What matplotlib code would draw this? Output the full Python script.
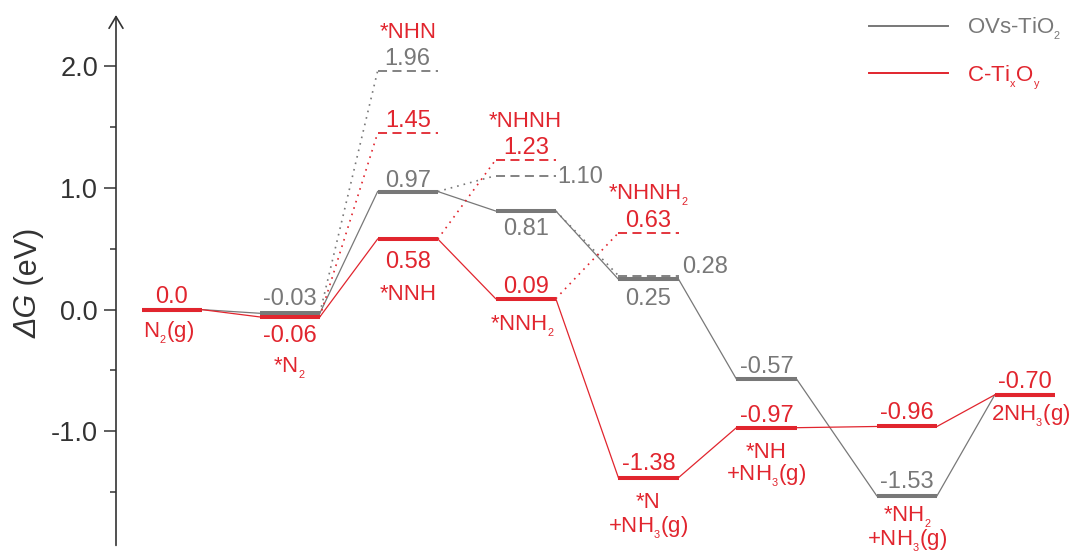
import matplotlib
matplotlib.use('Agg')
import matplotlib.pyplot as plt
from matplotlib.lines import Line2D

# ---------------- data ----------------
steps = ['N$_{_2}$(g)', '*N$_{_2}$', '*NNH', '*NNH$_{_2}$', '*N\n+NH$_{_3}$(g)',
         '*NH\n+NH$_{_3}$(g)', '*NH$_{_2}$\n+NH$_{_3}$(g)', '2NH$_{_3}$(g)']
ovs_G = [0.0, -0.03, 0.97, 0.81, 0.25, -0.57, -1.53, -0.70]
ctio_G = [0.0, -0.06, 0.58, 0.09, -1.38, -0.97, -0.96, -0.70]
alt_steps = [2, 3, 4]
alt_names = ['*NHN', '*NHNH', '*NHNH$_{_2}$']
ovs_alt = [1.96, 1.10, 0.28]
ctio_alt = [1.45, 1.23, 0.63]
yticks = [-1.0, 0.0, 1.0, 2.0]
yticklabels = ['-1.0', '0.0', '1.0', '2.0']
yminor = [-1.5, -0.5, 0.5, 1.5]
series_names = ['OVs-TiO$_{_2}$', 'C-Ti$_{_\\mathrm{x}}$O$_{_\\mathrm{y}}$']

# ---------------- layout / style ----------------
step_x = [0, 1, 2, 3, 4.04, 5.04, 6.23, 7.23]
hw = 0.255
GRAY = '#787878'
RED = '#E1252E'
AX = '#333333'

plt.rcParams['font.family'] = ['Liberation Sans', 'DejaVu Sans']
plt.rcParams['mathtext.fontset'] = 'custom'
plt.rcParams['mathtext.rm'] = 'Liberation Sans'
plt.rcParams['mathtext.it'] = 'Liberation Sans:italic'
plt.rcParams['mathtext.bf'] = 'Liberation Sans:bold'
plt.rcParams['mathtext.default'] = 'regular'
plt.rcParams['axes.unicode_minus'] = False

W, H = 1078, 554
fig = plt.figure(figsize=(W / 100, H / 100), dpi=100)
ax = fig.add_axes([116 / W, 7 / H, 1 - 116 / W, 532 / H])
ax.set_xlim(-0.472, 7.68)
ax.set_ylim(-1.95, 2.42)

for s in ['top', 'right', 'bottom', 'left']:
    ax.spines[s].set_visible(False)
ax.set_xticks([])
ax.set_yticks(yticks)
ax.set_yticklabels(yticklabels)
ax.set_yticks(yminor, minor=True)
ax.tick_params(axis='y', which='major', length=9, width=1.1, color=AX,
               labelsize=19.5, labelcolor=AX, pad=4)
ax.tick_params(axis='y', which='minor', length=4.5, width=1.1, color=AX)
ax.annotate('', xy=(0, 1), xytext=(0, 0.003), xycoords='axes fraction',
            arrowprops=dict(arrowstyle='->,head_length=0.42,head_width=0.25',
                            lw=1.2, color=AX, mutation_scale=20,
                            shrinkA=0, shrinkB=0), annotation_clip=False)

# y label: italic ΔG + (eV)
t1 = fig.text(29 / W, (H - 338) / H, 'ΔG', rotation=90, style='italic',
              ha='center', va='bottom', fontsize=22, color=AX)
ax.annotate(' (eV)', xy=(0.5, 1), xycoords=t1, rotation=90, ha='center',
            va='bottom', fontsize=22, color=AX)

bar_lw = 2.9
thin_lw = 0.9


def draw_series(G, alt, color, z):
    for i, g in enumerate(G):
        x = step_x[i]
        ax.plot([x - hw, x + hw], [g, g], color=color, lw=bar_lw,
                solid_capstyle='butt', zorder=z + 1)
        if i < len(G) - 1:
            ax.plot([x + hw, step_x[i + 1] - hw], [g, G[i + 1]], color=color,
                    lw=thin_lw, zorder=z)
    for s, a in zip(alt_steps, alt):
        x = step_x[s]
        ax.plot([x - hw, x + hw], [a, a], color=color, lw=1.3,
                dashes=(5, 3), zorder=z)
        ax.plot([step_x[s - 1] + hw, x - hw], [G[s - 1], a], color=color,
                lw=1.2, dashes=(1, 3), zorder=z)


draw_series(ovs_G, ovs_alt, GRAY, 2)
draw_series(ctio_G, ctio_alt, RED, 4)


def lab(x, y, s, color, dx=0, dy=7, ha='center', fs=17):
    ax.annotate(s, xy=(x, y), xytext=(dx, dy), textcoords='offset pixels',
                ha=ha, va='baseline', color=color, fontsize=fs,
                annotation_clip=False)


def fmt(v):
    return '0.0' if v == 0 else f'{v:.2f}'


# value labels (offsets in pixels, + is up)
gray_off = [None, 8.5, 5, -24, -25.5, 6, 8, None]
red_off = [7, -25.5, -28.5, 6, 8, 6, 7, 7]
for i, g in enumerate(ovs_G):
    if gray_off[i] is not None:
        lab(step_x[i], g, fmt(g), GRAY, dy=gray_off[i])
for i, g in enumerate(ctio_G):
    lab(step_x[i], g, fmt(g), RED, dy=red_off[i])

# alternative-path value labels
lab(step_x[2], ovs_alt[0], fmt(ovs_alt[0]), GRAY, dy=6.5)
lab(step_x[3] + hw, ovs_alt[1], fmt(ovs_alt[1]), GRAY, dx=1, dy=-7, ha='left')
lab(step_x[4] + hw, ovs_alt[2], fmt(ovs_alt[2]), GRAY, dx=4, dy=3, ha='left')
for s, a in zip(alt_steps, ctio_alt):
    lab(step_x[s], a, fmt(a), RED, dy=6)
for k, s in enumerate(alt_steps):
    top = max(ovs_alt[k], ctio_alt[k])
    lab(step_x[s], top, alt_names[k], RED, dy=33, fs=16)

# species labels (below bars)
sp_ref = [ctio_G[0], ctio_G[1], ctio_G[2], ctio_G[3], ctio_G[4], ctio_G[5],
          ovs_G[6], ctio_G[7]]
sp_off = [-28, -56, -60.5, -32, -30, -30, -26, -26]
sp_gap = [24, 24, 24, 24, 25, 23, 24.5, 24]
sp_dx = [-3, 0, 0, -3, 0, 0, 0, 6]
for i, name in enumerate(steps):
    for j, line in enumerate(name.split('\n')):
        lab(step_x[i], sp_ref[i], line, RED, dx=sp_dx[i],
            dy=sp_off[i] - sp_gap[i] * j, fs=16)

# legend
handles = [Line2D([], [], color=GRAY, lw=1.4), Line2D([], [], color=RED, lw=1.4)]
leg = ax.legend(handles, series_names, loc='upper left',
                bbox_to_anchor=(869 / W, (H - 16) / H),
                bbox_transform=fig.transFigure, frameon=False, fontsize=16,
                handlelength=3.55, handletextpad=0.85, labelspacing=0.95,
                borderpad=0, borderaxespad=0, labelcolor='linecolor')

fig.savefig('out.png', dpi=100)
